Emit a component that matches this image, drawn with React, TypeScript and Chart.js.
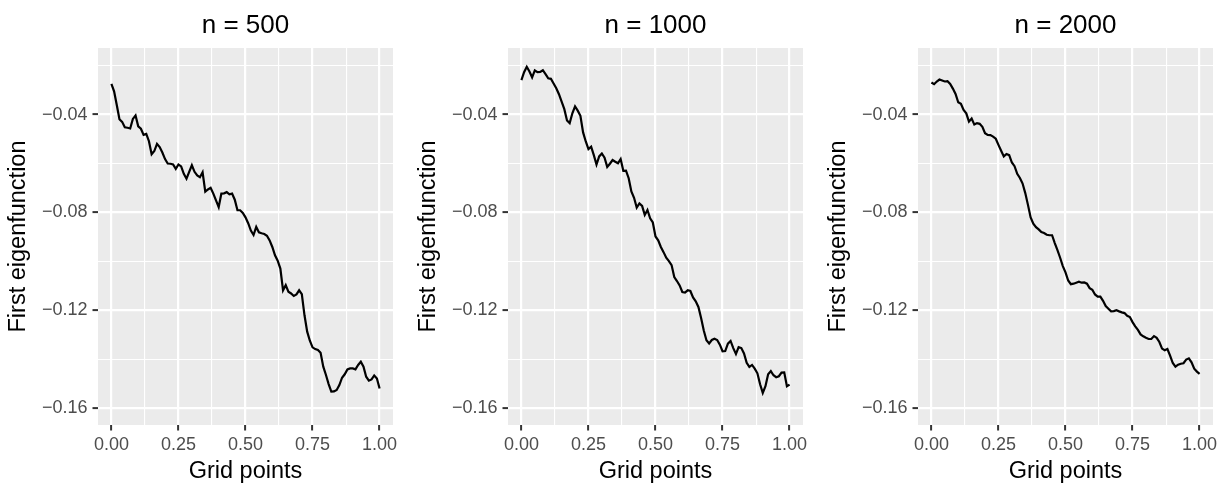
import React, { useEffect, useRef } from 'react';
import { Chart, registerables } from 'chart.js';

Chart.register(...registerables);

// ---------- data ----------
const gridPoints: number[] = Array.from({ length: 101 }, (_, i) => i / 100);

const panelTitles = ['n = 500', 'n = 1000', 'n = 2000'];

const eigen500 = [
  -0.0275, -0.0305, -0.0361, -0.0419, -0.0430, -0.0452, -0.0454, -0.0457, -0.0418, -0.0404,
  -0.0448, -0.0458, -0.0483, -0.0479, -0.0509, -0.0562, -0.0549, -0.0520, -0.0533, -0.0555,
  -0.0582, -0.0600, -0.0601, -0.0604, -0.0622, -0.0604, -0.0612, -0.0642, -0.0662, -0.0634,
  -0.0607, -0.0634, -0.0649, -0.0656, -0.0636, -0.0715, -0.0706, -0.0699, -0.0723, -0.0751,
  -0.0778, -0.0723, -0.0722, -0.0717, -0.0726, -0.0723, -0.0748, -0.0791, -0.0791, -0.0802,
  -0.0820, -0.0844, -0.0874, -0.0892, -0.0859, -0.0881, -0.0885, -0.0888, -0.0895, -0.0914,
  -0.0941, -0.0975, -0.0997, -0.1029, -0.1118, -0.1097, -0.1124, -0.1131, -0.1141, -0.1135,
  -0.1118, -0.1134, -0.1220, -0.1287, -0.1324, -0.1351, -0.1358, -0.1362, -0.1373, -0.1430,
  -0.1464, -0.1501, -0.1532, -0.1531, -0.1525, -0.1505, -0.1475, -0.1461, -0.1441, -0.1437,
  -0.1437, -0.1441, -0.1423, -0.1410, -0.1430, -0.1471, -0.1487, -0.1482, -0.1466, -0.1478,
  -0.1519,
];

const eigen1000 = [
  -0.0259, -0.0227, -0.0205, -0.0224, -0.0248, -0.0220, -0.0227, -0.0226, -0.0219, -0.0235,
  -0.0252, -0.0254, -0.0273, -0.0293, -0.0317, -0.0347, -0.0378, -0.0424, -0.0435, -0.0395,
  -0.0367, -0.0384, -0.0405, -0.0473, -0.0510, -0.0541, -0.0531, -0.0566, -0.0604, -0.0571,
  -0.0559, -0.0576, -0.0614, -0.0601, -0.0586, -0.0593, -0.0599, -0.0582, -0.0630, -0.0629,
  -0.0660, -0.0714, -0.0740, -0.0780, -0.0763, -0.0773, -0.0810, -0.0790, -0.0824, -0.0841,
  -0.0898, -0.0914, -0.0941, -0.0962, -0.0985, -0.0999, -0.1015, -0.1064, -0.1080, -0.1098,
  -0.1125, -0.1127, -0.1118, -0.1121, -0.1147, -0.1163, -0.1186, -0.1231, -0.1282, -0.1322,
  -0.1335, -0.1321, -0.1316, -0.1321, -0.1340, -0.1367, -0.1366, -0.1336, -0.1325, -0.1354,
  -0.1378, -0.1350, -0.1354, -0.1376, -0.1414, -0.1431, -0.1423, -0.1438, -0.1457, -0.1502,
  -0.1537, -0.1510, -0.1461, -0.1448, -0.1465, -0.1473, -0.1469, -0.1454, -0.1453, -0.1510,
  -0.1503,
];

const eigen2000 = [
  -0.0269, -0.0276, -0.0265, -0.0257, -0.0261, -0.0265, -0.0264, -0.0275, -0.0294, -0.0316,
  -0.0350, -0.0356, -0.0381, -0.0395, -0.0429, -0.0416, -0.0441, -0.0435, -0.0438, -0.0450,
  -0.0476, -0.0483, -0.0484, -0.0490, -0.0499, -0.0524, -0.0548, -0.0571, -0.0561, -0.0566,
  -0.0596, -0.0611, -0.0642, -0.0659, -0.0682, -0.0721, -0.0769, -0.0820, -0.0846, -0.0860,
  -0.0869, -0.0880, -0.0884, -0.0891, -0.0893, -0.0893, -0.0925, -0.0954, -0.0985, -0.1019,
  -0.1045, -0.1078, -0.1093, -0.1091, -0.1087, -0.1083, -0.1087, -0.1086, -0.1091, -0.1109,
  -0.1116, -0.1135, -0.1144, -0.1144, -0.1161, -0.1182, -0.1193, -0.1204, -0.1203, -0.1199,
  -0.1204, -0.1208, -0.1211, -0.1222, -0.1227, -0.1248, -0.1265, -0.1280, -0.1298, -0.1306,
  -0.1312, -0.1317, -0.1317, -0.1305, -0.1312, -0.1329, -0.1356, -0.1363, -0.1358, -0.1385,
  -0.1415, -0.1430, -0.1422, -0.1418, -0.1416, -0.1401, -0.1396, -0.1412, -0.1438, -0.1450,
  -0.1459,
];

const panelSeries = [eigen500, eigen1000, eigen2000];

const xMajorTicks = [0, 0.25, 0.5, 0.75, 1];
const xMinorTicks = [0.125, 0.375, 0.625, 0.875];
const yMajorTicks = [-0.16, -0.12, -0.08, -0.04];
const yMinorTicks = [-0.14, -0.1, -0.06, -0.02];

const xAxisLabel = 'Grid points';
const yAxisLabel = 'First eigenfunction';

// ---------- styling / layout ----------
const FONT = "'Liberation Sans', Arial, Helvetica, sans-serif";
const PANEL_LEFTS = [0, 410, 820];
const CANVAS_W = 410;
const CANVAS_H = 484;

const isIn = (arr: number[], v: number) => arr.some((m) => Math.abs(m - v) < 1e-9);
const fmt = (v: number) => (v < 0 ? '\u2212' + Math.abs(v).toFixed(2) : v.toFixed(2));

const panelBg = {
  id: 'panelBg',
  beforeDraw(chart: any) {
    const { ctx, chartArea } = chart;
    if (!chartArea) return;
    ctx.save();
    ctx.fillStyle = '#EBEBEB';
    ctx.fillRect(chartArea.left, chartArea.top, chartArea.right - chartArea.left, chartArea.bottom - chartArea.top);
    ctx.restore();
  },
};

function Panel({ title, values, left }: { title: string; values: number[]; left: number }) {
  const ref = useRef<HTMLCanvasElement | null>(null);

  useEffect(() => {
    if (!ref.current) return;
    const xTicks = [...xMajorTicks, ...xMinorTicks].sort((a, b) => a - b);
    const yTicks = [...yMajorTicks, ...yMinorTicks].sort((a, b) => a - b);

    const chart = new Chart(ref.current, {
      type: 'line',
      data: {
        datasets: [
          {
            data: gridPoints.map((x, i) => ({ x, y: values[i] })),
            borderColor: '#000000',
            borderWidth: 2.2,
            pointRadius: 0,
            tension: 0,
            fill: false,
          },
        ],
      },
      options: {
        responsive: false,
        animation: false,
        events: [],
        layout: { padding: { top: 0, right: 17, bottom: 0, left: 0 } },
        plugins: {
          legend: { display: false },
          tooltip: { enabled: false },
          title: {
            display: true,
            text: title,
            fullSize: false,
            color: '#000000',
            font: { family: FONT, size: 26, weight: 'normal', lineHeight: 1.2 },
            padding: { top: 10, bottom: 6.8 },
          },
        },
        scales: {
          x: {
            type: 'linear',
            min: -0.05,
            max: 1.05,
            afterBuildTicks: (s: any) => {
              s.ticks = xTicks.map((v) => ({ value: v }));
            },
            afterFit: (s: any) => {
              s.height = 59;
            },
            border: { display: false },
            grid: {
              color: '#FFFFFF',
              lineWidth: (c: any) => (c.tick && isIn(xMajorTicks, c.tick.value) ? 2.2 : 1.1),
              drawTicks: true,
              tickLength: 5.5,
              tickWidth: 2,
              tickColor: (c: any) => (c.tick && isIn(xMajorTicks, c.tick.value) ? '#333333' : 'rgba(0,0,0,0)'),
            },
            ticks: {
              autoSkip: false,
              maxRotation: 0,
              minRotation: 0,
              padding: 4,
              color: '#4D4D4D',
              font: { family: FONT, size: 18 },
              callback: (v: any) => (isIn(xMajorTicks, Number(v)) ? fmt(Number(v)) : ''),
            },
            title: {
              display: true,
              text: xAxisLabel,
              color: '#000000',
              font: { family: FONT, size: 23.5, lineHeight: 1 },
              padding: { top: 0, bottom: 0.3 },
            },
          },
          y: {
            type: 'linear',
            min: -0.16682,
            max: -0.01282,
            afterBuildTicks: (s: any) => {
              s.ticks = yTicks.map((v) => ({ value: v }));
            },
            afterFit: (s: any) => {
              s.width = 98;
            },
            border: { display: false },
            grid: {
              color: '#FFFFFF',
              lineWidth: (c: any) => (c.tick && isIn(yMajorTicks, c.tick.value) ? 2.2 : 1.1),
              drawTicks: true,
              tickLength: 5.5,
              tickWidth: 2,
              tickColor: (c: any) => (c.tick && isIn(yMajorTicks, c.tick.value) ? '#333333' : 'rgba(0,0,0,0)'),
            },
            ticks: {
              autoSkip: false,
              padding: 5,
              color: '#4D4D4D',
              font: { family: FONT, size: 18 },
              callback: (v: any) => (isIn(yMajorTicks, Number(v)) ? fmt(Number(v)) : ''),
            },
            title: {
              display: true,
              text: yAxisLabel,
              color: '#000000',
              font: { family: FONT, size: 23.5, lineHeight: 1 },
              padding: { top: 6.7, bottom: 0 },
            },
          },
        },
      },
      plugins: [panelBg],
    } as any);

    return () => chart.destroy();
  }, [title, values]);

  return (
    <div style={{ position: 'absolute', left, top: 0, width: CANVAS_W, height: CANVAS_H }}>
      <canvas ref={ref} width={CANVAS_W} height={CANVAS_H} style={{ display: 'block', width: CANVAS_W, height: CANVAS_H }} />
    </div>
  );
}

export default function App() {
  return (
    <div
      style={{
        position: 'absolute',
        left: 0,
        top: 0,
        width: 1224,
        height: 484,
        overflow: 'hidden',
        background: '#FFFFFF',
      }}
    >
      {panelTitles.map((t, i) => (
        <Panel key={t} title={t} values={panelSeries[i]} left={PANEL_LEFTS[i]} />
      ))}
    </div>
  );
}
